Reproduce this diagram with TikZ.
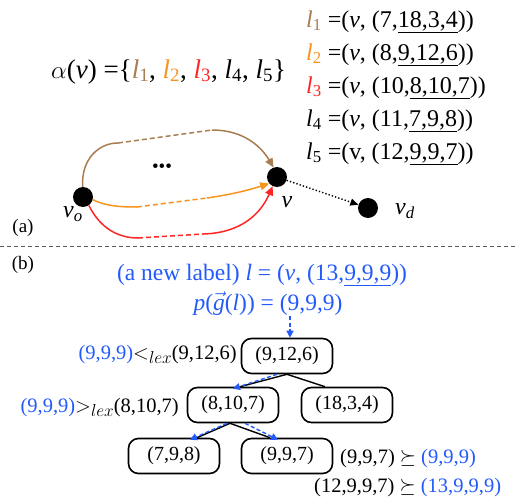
\documentclass[tikz,border=0pt]{standalone}
\usepackage{fontspec}
\setmainfont{Liberation Serif}
\usetikzlibrary{arrows.meta}
\definecolor{cbrown}{RGB}{168,124,80}
\definecolor{corange}{RGB}{247,148,30}
\definecolor{cred}{RGB}{255,38,38}
\definecolor{cblue}{RGB}{35,90,250}
\newcommand{\lab}[1]{\textit{l}\textsubscript{#1}}
\newcommand{\lexsub}{\raisebox{-4pt}{\fontsize{16}{16}\selectfont$lex$}}
\tikzset{
  dot/.style={circle,fill=black,inner sep=0pt,minimum size=20pt},
  tbox/.style={draw,line width=1.6pt,rounded corners=10pt,minimum width=91pt,minimum height=35pt,inner sep=0pt,font=\fontsize{20}{22}\selectfont},
  tedge/.style={line width=1.4pt},
  bluearr/.style={cblue,line width=1.4pt,dashed,dash pattern=on 4pt off 2.5pt,-{Triangle[length=7pt,width=7pt]}},
  curv/.style={line width=1.5pt},
  big/.style={font=\fontsize{24}{28}\selectfont,inner sep=0pt},
  mid/.style={font=\fontsize{20.5}{23}\selectfont,inner sep=0pt},
  bluet/.style={font=\fontsize{23.5}{26}\selectfont,inner sep=0pt,text=cblue},
}
\begin{document}
\begin{tikzpicture}[x=1pt,y=-1pt]
\useasboundingbox (0,0) rectangle (515,498);
% top text
\node[big,font=\fontsize{27}{30}\selectfont,anchor=base west] (alpha) at (51,78) {$\alpha$(\textit{v}) =\{\textcolor{cbrown}{\lab1}, \textcolor{corange}{\lab2}, \textcolor{cred}{\lab3}, \lab4, \lab5\}};
\node[big,anchor=base west] (L1) at (306,27) {\textcolor{cbrown}{\lab1} =(\textit{v}, (7,\underline{18,3,4}))};
\node[big,anchor=base west] (L2) at (306,60) {\textcolor{corange}{\lab2} =(\textit{v}, (8,\underline{9,12,6}))};
\node[big,anchor=base west] (L3) at (306,93) {\textcolor{cred}{\lab3} =(\textit{v}, (10,\underline{8,10,7}))};
\node[big,anchor=base west] (L4) at (306,126) {\lab4 =(\textit{v}, (11,\underline{7,9,8}))};
\node[big,anchor=base west] (L5) at (306,159) {\lab5 =(v, (12,\underline{9,9,7}))};
% graph
\node[dot] (vo) at (83,197) {};
\node[dot] (v) at (277,177) {};
\node[dot] (vd) at (368,208) {};
\node[big] (vol) at (73,214) {\textit{v}\textsubscript{\textit{o}}};
\node[big] (vl) at (287,202) {\textit{v}};
\node[big] (vdl) at (405,211) {\textit{v}\textsubscript{\textit{d}}};
\node[font=\fontsize{19}{19}\selectfont,inner sep=0pt] (dots) at (162,168) {\textbullet\textbullet\textbullet};
\coordinate (b1) at (118,143);
\coordinate (b2) at (212,130);
\coordinate (o1) at (137,207);
\coordinate (o2) at (207,198);
\coordinate (r1) at (138,238);
\coordinate (r2) at (203,234);
\draw[curv,cbrown] (vo.92) .. controls (81,160) and (98,143) .. (b1);
\draw[curv,cbrown,dashed,dash pattern=on 5pt off 3pt] (b1) -- (b2);
\draw[curv,cbrown,-{Triangle[length=9pt,width=8pt]}] (b2) .. controls (245,130) and (262,148) .. (v.110);
\draw[curv,corange] (vo.-15) .. controls (105,206) and (120,207) .. (o1);
\draw[curv,corange,dashed,dash pattern=on 5pt off 3pt] (o1) -- (o2);
\draw[curv,corange,-{Triangle[length=9pt,width=8pt]}] (o2) .. controls (235,194) and (252,189) .. (v.-140);
\draw[curv,cred] (vo.-55) .. controls (100,228) and (118,238) .. (r1);
\draw[curv,cred,dashed,dash pattern=on 5pt off 3pt] (r1) -- (r2);
\draw[curv,cred,-{Triangle[length=9pt,width=8pt]}] (r2) .. controls (240,233) and (260,215) .. (v.-115);
\draw[line width=1.4pt,dotted,-{Triangle[length=8pt,width=7pt]}] (v) -- (vd);
\node[mid,font=\fontsize{19}{21}\selectfont] (a) at (23,228) {(a)};
\draw[gray!70!black,line width=1pt,dash pattern=on 4pt off 3pt] (0,246) -- (515,246);
\node[mid,font=\fontsize{19}{21}\selectfont] (b) at (23,265) {(b)};
% part b
\node[bluet,anchor=base] (new) at (262,280) {(a new label) \textit{l} = (\textit{v}, (13,\underline{9,9,9}))};
\node[bluet,anchor=base] (pg) at (268,310) {\textit{p}($\vec{\mbox{\textit{g}}}$(\textit{l})) = (9,9,9)};
\node[tbox] (n1) at (287,356) {(9,12,6)};
\node[tbox] (n2) at (233,405) {(8,10,7)};
\node[tbox] (n3) at (347,405) {(18,3,4)};
\node[tbox] (n4) at (174,456) {(7,9,8)};
\node[tbox] (n5) at (287,456) {(9,9,7)};
\draw[tedge] (n1.south) -- ([xshift=7pt]n2.north);
\draw[tedge] (n1.south) -- ([xshift=-22pt]n3.north);
\draw[tedge] ([xshift=-3pt]n2.south) -- ([xshift=23pt]n4.north);
\draw[tedge] ([xshift=-3pt]n2.south) -- ([xshift=-17pt]n5.north);
\coordinate (ps) at (290,316);
\draw[bluearr] (ps) -- ([xshift=3pt]n1.north);
\draw[bluearr] ([xshift=-10pt]n1.south) -- ([yshift=-2pt]n2.north);
\draw[bluearr] ([xshift=-6pt]n2.south) -- ([xshift=16pt,yshift=-2pt]n4.north);
\draw[bluearr] ([xshift=12pt]n2.south) -- ([xshift=-9pt,yshift=-2pt]n5.north);
\node[mid,anchor=base east] (c1) at (237,359) {\textcolor{cblue}{(9,9,9)}$<$\lexsub(9,12,6)};
\node[mid,anchor=base east] (c2) at (179,412) {\textcolor{cblue}{(9,9,9)}$>$\lexsub(8,10,7)};
\node[mid,anchor=base west] (c3) at (340,463) {(9,9,7) $\succeq$ \textcolor{cblue}{(9,9,9)}};
\node[mid,anchor=base west] (c4) at (314,492) {(12,9,9,7) $\succeq$ \textcolor{cblue}{(13,9,9,9)}};
\end{tikzpicture}
\end{document}
